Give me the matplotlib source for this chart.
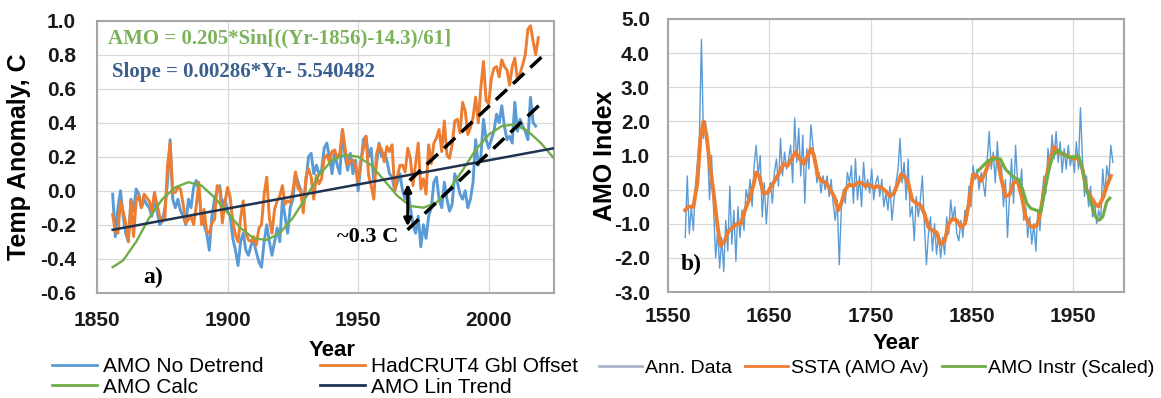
import numpy as np
import matplotlib
matplotlib.use('Agg')
import matplotlib.pyplot as plt
from matplotlib.transforms import Bbox, TransformedBbox

plt.rcParams['font.family'] = ['Liberation Sans', 'DejaVu Sans']
plt.rcParams['axes.unicode_minus'] = False

# ---------- панель a) ----------
years_a = np.arange(1856, 2019)
amo_no_detrend = [
    -0.02, -0.27, -0.10, 0.00, -0.15, -0.25, -0.30, -0.05, -0.12, 0.01,   # 1856-1865
    -0.02, -0.10, -0.05, -0.08, -0.10, -0.15, -0.05, -0.12, -0.20, -0.18,  # 1866-1875
    -0.10, 0.05, 0.30, -0.05, -0.10, -0.05, -0.12, -0.15, -0.20, -0.05,    # 1876-1885
    -0.10, 0.02, 0.06, 0.00, -0.15, -0.20, -0.25, -0.35, -0.15, -0.05,     # 1886-1895
    0.00, 0.03, -0.10, -0.05, -0.12, -0.15, -0.28, -0.35, -0.44, -0.30,    # 1896-1905
    -0.25, -0.35, -0.38, -0.32, -0.30, -0.36, -0.42, -0.45, -0.30, -0.20,  # 1906-1915
    -0.30, -0.38, -0.30, -0.22, -0.30, -0.05, -0.15, -0.25, -0.10, -0.05,  # 1916-1925
    0.10, 0.05, 0.00, -0.10, 0.05, 0.20, 0.22, 0.10, 0.15, 0.10,           # 1926-1935
    0.12, 0.25, 0.28, 0.20, 0.10, 0.22, 0.15, 0.10, 0.36, 0.20,            # 1936-1945
    0.12, 0.22, 0.10, 0.18, 0.00, 0.15, 0.30, 0.32, 0.20, 0.25,            # 1946-1955
    0.05, 0.15, 0.28, 0.20, 0.22, 0.18, 0.10, 0.08, 0.00, 0.05,            # 1956-1965
    0.10, 0.00, -0.05, 0.02, -0.10, -0.20, -0.25, -0.15, -0.33, -0.20,     # 1966-1975
    -0.28, -0.15, -0.10, 0.05, 0.08, -0.05, -0.10, 0.05, -0.05, -0.12,     # 1976-1985
    -0.08, 0.10, 0.05, -0.02, -0.05, 0.00, -0.10, -0.05, 0.05, 0.30,       # 1986-1995
    0.15, 0.20, 0.42, 0.30, 0.25, 0.30, 0.35, 0.45, 0.40, 0.50,            # 1996-2005
    0.38, 0.30, 0.32, 0.28, 0.52, 0.35, 0.42, 0.38, 0.35, 0.30,            # 2006-2015
    0.55, 0.40, 0.38,                                                      # 2016-2018
]

years_had = np.arange(1856, 2020)
hadcrut_offset = [
    -0.14, -0.24, -0.25, -0.06, -0.12, -0.19, -0.30, -0.06, -0.27, -0.06,  # 1856-1865
    -0.03, -0.10, -0.02, -0.04, -0.06, -0.12, -0.01, -0.08, -0.15, -0.18,  # 1866-1875
    -0.16, 0.15, 0.28, -0.01, -0.01, 0.02, 0.01, -0.08, -0.19, -0.17,      # 1876-1885
    -0.15, -0.20, -0.09, 0.05, -0.20, -0.11, -0.24, -0.25, -0.19, -0.17,   # 1886-1895
    0.03, 0.01, -0.19, -0.07, 0.02, -0.04, -0.18, -0.26, -0.30, -0.16,     # 1896-1905
    -0.06, -0.25, -0.29, -0.30, -0.27, -0.32, -0.22, -0.20, -0.02, 0.08,   # 1906-1915
    -0.16, -0.25, -0.11, -0.06, -0.03, 0.03, -0.08, -0.06, -0.07, 0.00,    # 1916-1925
    0.11, 0.01, 0.01, -0.13, 0.08, 0.13, 0.08, -0.05, 0.09, 0.04,          # 1926-1935
    0.07, 0.19, 0.21, 0.17, 0.23, 0.24, 0.19, 0.22, 0.36, 0.25,            # 1936-1945
    0.15, 0.18, 0.18, 0.15, 0.05, 0.17, 0.25, 0.32, 0.09, 0.03,            # 1946-1955
    -0.05, 0.21, 0.27, 0.24, 0.17, 0.26, 0.23, 0.27, 0.00, 0.08,           # 1956-1965
    0.15, 0.15, 0.11, 0.25, 0.19, 0.03, 0.16, 0.28, 0.01, 0.07,            # 1966-1975
    -0.02, 0.27, 0.16, 0.28, 0.31, 0.36, 0.23, 0.41, 0.21, 0.19,           # 1976-1985
    0.27, 0.41, 0.42, 0.34, 0.52, 0.47, 0.33, 0.37, 0.43, 0.55,            # 1986-1995
    0.40, 0.61, 0.76, 0.53, 0.51, 0.66, 0.72, 0.73, 0.67, 0.77,            # 1996-2005
    0.73, 0.71, 0.62, 0.73, 0.78, 0.65, 0.69, 0.74, 0.80, 0.95,            # 2006-2015
    0.97, 0.88, 0.80, 0.90,                                                # 2016-2019
]

calc_years = [1856, 1860, 1865, 1870, 1875, 1880, 1885, 1890, 1895, 1900,
              1905, 1910, 1915, 1920, 1925, 1930, 1935, 1940, 1945, 1950,
              1955, 1960, 1965, 1970, 1975, 1980, 1985, 1990, 1995, 2000,
              2005, 2010, 2015, 2020, 2025]
amo_calc = [-0.45, -0.41, -0.30, -0.16, -0.05, 0.02, 0.05, 0.03, -0.04, -0.13,
            -0.22, -0.28, -0.29, -0.25, -0.16, -0.04, 0.09, 0.18, 0.21, 0.20,
            0.15, 0.06, -0.03, -0.09, -0.10, -0.07, 0.01, 0.12, 0.24, 0.33,
            0.38, 0.39, 0.35, 0.28, 0.19]

trend_years = [1856, 2025]
amo_lin_trend = [-0.23, 0.25]

# штрихові лінії та стрілка "~0.3 C"
dash_upper_x = [1969.7, 2021.2]
dash_upper_y = [0.06, 0.80]
dash_lower_x = [1968.9, 2021.2]
dash_lower_y = [-0.23, 0.53]
arrow_x = 1969
arrow_y = [0.04, -0.21]

# ---------- панель b) ----------
years_ann = np.arange(1567, 1990, 2)
ann_data = [
    -1.4, 0.4, -1.3, -0.5, -1.2, 0.1, 0.8, 1.6, 4.4, 1.5,      # 1567-1585
    2.0, 1.2, -0.3, 1.0, -0.6, -2.0, -1.2, -2.3, -1.4, -2.4,   # 1587-1605
    -0.9, -1.8, 0.1, -1.6, -0.6, -2.1, -0.5, -1.4, -0.6, -1.2,  # 1607-1625
    0.0, -0.3, 0.3, -0.5, 0.7, 1.3, 0.4, 1.0, -0.8, 0.2,       # 1627-1645
    -1.0, -0.1, 0.2, -0.4, 0.5, 0.9, 0.1, 1.5, 0.4, 1.1,       # 1647-1665
    0.6, 0.9, 1.3, 0.2, 2.1, 0.8, 1.8, 0.4, 1.6, -0.4,         # 1667-1685
    1.2, 0.6, 1.9, 1.3, 0.8, 0.2, 0.5, -0.1, 0.4, 0.0,         # 1687-1705
    0.4, -0.2, 0.3, -0.4, -0.9, -0.3, -2.2, -0.6, 0.0, -0.4,   # 1707-1725
    0.5, 0.2, 0.7, -0.4, 0.9, -0.3, 0.4, -0.5, 0.8, 0.0,       # 1727-1745
    0.3, -0.1, 0.6, -0.3, 0.2, 0.4, -0.2, 0.3, -0.5, -0.1,     # 1747-1765
    -0.6, 0.1, -0.9, -0.3, 0.2, 0.6, 1.5, 0.2, 0.8, -0.3,      # 1767-1785
    0.9, -0.8, -0.5, -1.5, -0.2, -0.8, -0.3, 0.4, -1.0, -2.2,  # 1787-1805
    -1.3, -0.8, -1.8, -1.0, -1.9, -1.3, -2.0, -1.4, -1.9, -0.8,  # 1807-1825
    -1.3, -0.3, -0.9, -0.5, -1.3, -1.5, -0.9, -1.4, -0.6, -0.9,  # 1827-1845
    0.1, -0.5, 0.7, 0.3, 0.6, 0.0, 0.5, 0.2, -0.2, 0.9,        # 1847-1865
    1.7, 0.6, 1.1, 0.2, 1.4, 0.5, 0.8, -0.5, 0.3, -1.4,        # 1867-1885
    -0.2, 0.9, -0.4, 1.3, 0.2, -0.1, 0.6, -0.9, -0.5, -1.4,    # 1887-1905
    -0.8, -1.6, -1.0, -1.8, -0.6, -1.2, -0.2, 0.4, -0.1, 1.2,  # 1907-1925
    0.6, 1.6, 0.9, 1.7, 0.8, 1.4, 0.5, 1.2, 0.6, 1.3,          # 1927-1945
    0.7, 1.0, 0.5, 1.4, 0.6, 2.4, 0.9, -0.2, 0.4, -0.5,        # 1947-1965
    0.1, -0.8, -0.3, -1.0, -0.6, -0.9, 0.6, -0.2, 0.7, 0.3,    # 1967-1985
    1.3, 0.8,                                                  # 1987-1989
]

ssta_years = [1567, 1570, 1575, 1579, 1582, 1585, 1588, 1591, 1595, 1599,
              1602, 1606, 1610, 1614, 1618, 1622, 1626, 1630, 1634, 1637,
              1640, 1644, 1648, 1652, 1656, 1660, 1664, 1668, 1672, 1676,
              1680, 1684, 1688, 1691, 1694, 1698, 1702, 1706, 1710, 1714,
              1718, 1721, 1725, 1729, 1733, 1737, 1741, 1745, 1749, 1753,
              1757, 1761, 1765, 1769, 1773, 1777, 1780, 1783, 1787, 1791,
              1795, 1799, 1803, 1807, 1811, 1815, 1819, 1823, 1827, 1831,
              1835, 1839, 1843, 1847, 1851, 1855, 1859, 1863, 1867, 1871,
              1875, 1879, 1883, 1887, 1891, 1895, 1899, 1903, 1907, 1911,
              1915, 1919, 1923, 1927, 1931, 1935, 1939, 1943, 1947, 1951,
              1955, 1959, 1963, 1967, 1971, 1975, 1979, 1983, 1987]
ssta_amo_av = [-0.6, -0.5, -0.5, 0.2, 1.5, 2.0, 1.6, 0.8, -0.1, -1.1,
               -1.65, -1.5, -1.2, -1.1, -1.0, -1.0, -0.6, -0.3, 0.1, 0.5,
               0.4, -0.1, -0.1, 0.1, 0.3, 0.5, 0.75, 0.7, 0.9, 1.1,
               0.9, 0.75, 1.0, 1.2, 1.0, 0.4, 0.25, 0.2, 0.0, -0.2,
               -0.6, -0.4, 0.0, 0.15, 0.1, 0.2, 0.2, 0.1, 0.15, 0.05,
               0.1, 0.05, -0.05, -0.2, -0.1, 0.2, 0.45, 0.4, 0.2, -0.3,
               -0.4, -0.45, -0.7, -1.1, -1.2, -1.25, -1.6, -1.5, -1.0, -0.85,
               -0.9, -1.1, -1.0, -0.4, 0.45, 0.4, 0.25, 0.5, 0.8, 0.95,
               0.9, 0.3, -0.2, -0.15, 0.2, 0.25, -0.2, -0.8, -1.05, -1.1,
               -1.0, -0.4, 0.3, 0.9, 1.25, 1.1, 1.05, 1.0, 0.95, 0.9,
               0.95, 0.6, 0.0, -0.2, -0.4, -0.5, -0.25, 0.1, 0.4]

instr_years = [1856, 1861, 1866, 1872, 1878, 1883, 1888, 1892, 1896, 1900,
               1904, 1908, 1913, 1918, 1922, 1926, 1930, 1935, 1940, 1945,
               1950, 1955, 1959, 1963, 1967, 1971, 1975, 1979, 1983, 1986]
amo_instr_scaled = [0.55, 0.7, 0.85, 0.9, 0.9, 0.6, 0.45, 0.35, 0.3, 0.0,
                    -0.4, -0.55, -0.6, -0.65, 0.0, 0.6, 1.0, 1.15, 1.05, 0.95,
                    0.95, 1.0, 0.6, 0.0, -0.35, -0.75, -0.9, -0.8, -0.35, -0.25]

C_BLUE = '#5B9BD5'
C_ORANGE = '#ED7D31'
C_GREEN = '#70AD47'
C_TREND = '#1F3350'
GRID = '#D9D9D9'
SPINE = '#A6A6A6'
SERIF = ['Liberation Serif', 'DejaVu Serif']

fig = plt.figure(figsize=(11.61, 3.98), dpi=100)
ax1 = fig.add_axes([97 / 1161, 1 - 292.7 / 398, 457 / 1161, 272 / 398])
ax2 = fig.add_axes([668 / 1161, 1 - 292 / 398, 456 / 1161, 273 / 398])

# ================= a) =================
ax1.plot(years_a, amo_no_detrend, color=C_BLUE, lw=2.1, label='AMO No Detrend', zorder=3)
ax1.plot(years_had, hadcrut_offset, color=C_ORANGE, lw=2.1, label='HadCRUT4 Gbl Offset', zorder=4)
ax1.plot(calc_years, amo_calc, color=C_GREEN, lw=1.7, label='AMO Calc', zorder=5)
ax1.plot(trend_years, amo_lin_trend, color=C_TREND, lw=1.8, label='AMO Lin Trend', zorder=6)
ax1.plot(dash_upper_x, dash_upper_y, color='black', lw=2.5, dashes=(4.4, 2.4), zorder=7)
ax1.plot(dash_lower_x, dash_lower_y, color='black', lw=2.5, dashes=(4.4, 2.4), zorder=7)
ax1.annotate('', xy=(arrow_x, arrow_y[1]), xytext=(arrow_x, arrow_y[0]),
             arrowprops=dict(arrowstyle='<|-|>', color='black', lw=2.2, mutation_scale=11,
                             shrinkA=0, shrinkB=0), zorder=8)

ax1.text(1854.3, 0.898, 'AMO = 0.205*Sin[((Yr-1856)-14.3)/61]', color='#7CB35A',
         fontsize=15, fontweight='bold', family=SERIF, ha='left', va='center')
ax1.text(1855.8, 0.698, 'Slope = 0.00286*Yr- 5.540482', color='#3A5F8E',
         fontsize=15, fontweight='bold', family=SERIF, ha='left', va='center')
ax1.text(1965.5, -0.27, '~0.3 C', color='black', fontsize=16, fontweight='bold',
         family=SERIF, ha='right', va='center')
ax1.text(1871.6, -0.51, 'a)', color='black', fontsize=17, fontweight='bold',
         family=SERIF, ha='center', va='center')

ax1.set_xlim(1850, 2025)
ax1.set_ylim(-0.6, 1.0)
ax1.set_xticks([1850, 1900, 1950, 2000])
ax1.set_yticks(np.arange(-0.6, 1.01, 0.2))
ax1.yaxis.set_major_formatter(matplotlib.ticker.FormatStrFormatter('%.1f'))
ax1.tick_params(axis='x', length=0, pad=13, labelsize=15)
ax1.tick_params(axis='y', length=0, pad=15, labelsize=15)
ax1.set_xlabel('Year', fontsize=16, fontweight='bold')
ax1.xaxis.set_label_coords(0.514, -0.174)
ax1.set_ylabel('Temp Anomaly, C', fontsize=18, fontweight='bold')
ax1.yaxis.set_label_coords(-0.145, 0.5)

# ================= b) =================
ax2.plot(years_ann, ann_data, color=C_BLUE, lw=1.0, label='Ann. Data', zorder=3)
ax2.plot(ssta_years, ssta_amo_av, color=C_ORANGE, lw=2.8, label='SSTA (AMO Av)', zorder=4)
ax2.plot(instr_years, amo_instr_scaled, color=C_GREEN, lw=2.3, label='AMO Instr (Scaled)', zorder=5)
ax2.text(1573, -2.2, 'b)', color='black', fontsize=17, fontweight='bold',
         family=SERIF, ha='center', va='center')

ax2.set_xlim(1550, 2000)
ax2.set_ylim(-3, 5)
ax2.set_xticks([1550, 1650, 1750, 1850, 1950])
ax2.set_yticks(np.arange(-3, 5.1, 1))
ax2.yaxis.set_major_formatter(matplotlib.ticker.FormatStrFormatter('%.1f'))
ax2.tick_params(axis='x', length=0, pad=11, labelsize=15)
ax2.tick_params(axis='y', length=0, pad=13, labelsize=15)
ax2.set_xlabel('Year', fontsize=16, fontweight='bold')
ax2.xaxis.set_label_coords(0.5, -0.15)
ax2.set_ylabel('AMO Index', fontsize=18, fontweight='bold')
ax2.yaxis.set_label_coords(-0.112, 0.5)

for ax in (ax1, ax2):
    ax.grid(True, color=GRID, lw=0.9)
    ax.set_axisbelow(True)
    for s in ax.spines.values():
        s.set_color(SPINE)
        s.set_linewidth(1.5)
    for lab in ax.get_xticklabels() + ax.get_yticklabels():
        lab.set_fontweight('bold')
        lab.set_color('#1A1A1A')

# легенди під графіками
h1, l1 = ax1.get_legend_handles_labels()
order = [0, 2, 1, 3]
leg1 = fig.legend([h1[i] for i in order], [l1[i] for i in order], ncol=2,
                  loc='upper left', bbox_to_anchor=(52 / 1161, 1 - 357.5 / 398),
                  frameon=False, fontsize=15, handlelength=2.16, handletextpad=0.3,
                  columnspacing=2.7, borderpad=0, borderaxespad=0, labelspacing=0.05)
clip = TransformedBbox(Bbox([[0, 0], [0.498, 1]]), fig.transFigure)
for t in leg1.get_texts():
    t.set_clip_box(clip)
    t.set_clip_on(True)

h2, l2 = ax2.get_legend_handles_labels()
leg2 = fig.legend(h2, l2, ncol=3, loc='upper left', bbox_to_anchor=(599 / 1161, 1 - 359 / 398),
                  frameon=False, fontsize=14, handlelength=2.2, handletextpad=0.15,
                  columnspacing=0.7, borderpad=0, borderaxespad=0)

for leg in (leg1, leg2):
    for ln in leg.get_lines():
        ln.set_linewidth(2.0)
leg2.get_lines()[0].set_color('#A9B7C9')

fig.savefig('out.png', dpi=100)
